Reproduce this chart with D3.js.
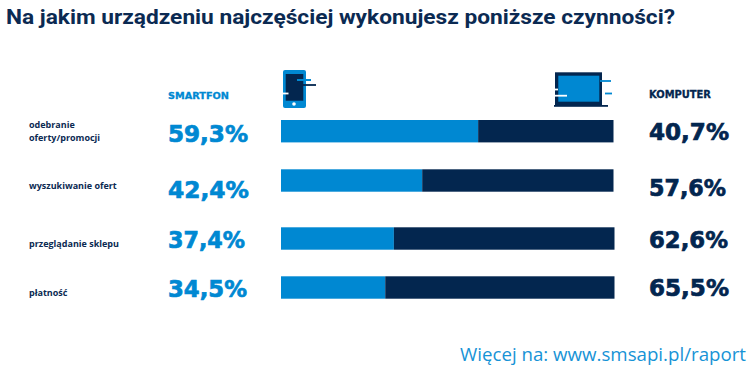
<!DOCTYPE html>
<html><head><meta charset="utf-8">
<script src="https://cdn.jsdelivr.net/npm/d3@7"></script>
<style>html,body{margin:0;padding:0;background:#fff}svg{display:block}</style>
</head><body><svg id="c" width="750" height="368"></svg>
<script>
const categories = [["odebranie","oferty/promocji"],["wyszukiwanie ofert"],["przeglądanie sklepu"],["płatność"]];
const smartfon = [59.3,42.4,37.4,34.5];
const komputer = [40.7,57.6,62.6,65.5];
// the drawn blue segments differ from the printed labels in the two lower rows
const barSmartfon = [59.2,42.4,33.9,31.3];
const title = "Na jakim urządzeniu najczęściej wykonujesz poniższe czynności?";
const seriesNames = ["SMARTFON","KOMPUTER"];
const footer = "Więcej na: www.smsapi.pl/raport";
const BLUE="#0088d2", NAVY="#03264f";
const svg=d3.select("#c");
const x=d3.scaleLinear().domain([0,100]).range([281,614]);
const barTop=[120,169.3,227.3,276.3];
const barEnd=[613.5,613.5,614.5,614.5];
const leftBase=[142.3,198,247.7,296.7];
const rightBase=[140,196,247.6,296];
const leftW=[80,81,77,79];
const rightW=[80,77,79,80];
const labelBase=[[128,140.5],[189],[246.5],[295.5]];
const pct=v=>v.toFixed(1).replace(".",",")+"%";
svg.append("text").text(title).attr("x",6).attr("y",24).attr("fill","#0b2a52")
  .attr("font-family","Roboto").attr("font-weight",700).attr("font-size",20.5).attr("textLength",669).attr("lengthAdjust","spacingAndGlyphs");
const hdr=(t,xx,yy,c,w,fs)=>svg.append("text").text(t).attr("x",xx).attr("y",yy).attr("fill",c).attr("stroke",c).attr("stroke-width",0.3)
  .attr("font-family","DejaVu Sans").attr("font-weight",700).attr("font-size",fs).attr("textLength",w).attr("lengthAdjust","spacingAndGlyphs");
hdr(seriesNames[0],168,99.3,BLUE,61,9.4);hdr(seriesNames[1],649,98.3,NAVY,62,10);
const rows=svg.selectAll("g.r").data(categories).join("g").attr("class","r");
rows.each(function(cat,i){
  const g=d3.select(this),top=barTop[i];
  g.append("rect").attr("x",x(0)).attr("y",top).attr("width",x(barSmartfon[i])-x(0)).attr("height",22.4).attr("fill",BLUE);
  g.append("rect").attr("x",x(barSmartfon[i])).attr("y",top).attr("width",barEnd[i]-x(barSmartfon[i])).attr("height",22.4).attr("fill",NAVY);
  const t=g.append("text").attr("fill","#0b2a52").attr("font-family","Open Sans").attr("font-weight",700).attr("font-size",9);
  cat.forEach((l,k)=>t.append("tspan").attr("x",29).attr("y",labelBase[i][k]).text(l));
  const big=(v,xx,yy,c,w)=>g.append("text").text(pct(v)).attr("x",xx).attr("y",yy).attr("fill",c).attr("stroke",c).attr("stroke-width",0.7)
    .attr("font-family","DejaVu Sans").attr("font-weight",700).attr("font-size",23).attr("textLength",w).attr("lengthAdjust","spacingAndGlyphs");
  big(smartfon[i],168,leftBase[i],BLUE,leftW[i]);big(komputer[i],649,rightBase[i],NAVY,rightW[i]);
});
// phone icon
const ph=svg.append("g");
ph.append("rect").attr("x",283).attr("y",70).attr("width",23).attr("height",38).attr("rx",2).attr("fill",BLUE);
ph.append("rect").attr("x",285.7).attr("y",74).attr("width",17.6).attr("height",26.7).attr("fill",NAVY);
ph.append("circle").attr("cx",294).attr("cy",104).attr("r",1.8).attr("fill","#fff");
[[297,80,311,BLUE,2],[303,85,316,NAVY,1.8],[282,93.5,288.5,"#fff",1.8]].forEach(d=>ph.append("line").attr("x1",d[0]).attr("x2",d[2]).attr("y1",d[1]).attr("y2",d[1]).attr("stroke",d[3]).attr("stroke-width",d[4]));
// laptop icon
const lp=svg.append("g");
lp.append("rect").attr("x",555).attr("y",72.3).attr("width",47).attr("height",33).attr("fill",NAVY);
lp.append("rect").attr("x",558.3).attr("y",75.7).attr("width",41).attr("height",26).attr("fill",BLUE);
lp.append("rect").attr("x",554).attr("y",105).attr("width",54).attr("height",1.8).attr("fill",NAVY);
[[600,81,611,BLUE],[605,93.5,612,BLUE],[555,89.5,558,"#fff"],[555,95.7,567,"#fff"]].forEach(d=>lp.append("line").attr("x1",d[0]).attr("x2",d[2]).attr("y1",d[1]).attr("y2",d[1]).attr("stroke",d[3]).attr("stroke-width",1.8));
svg.append("text").text(footer).attr("x",746).attr("y",360.5).attr("text-anchor","end").attr("fill","#1793d6")
  .attr("font-family","Open Sans").attr("font-size",18.7);
</script></body></html>
